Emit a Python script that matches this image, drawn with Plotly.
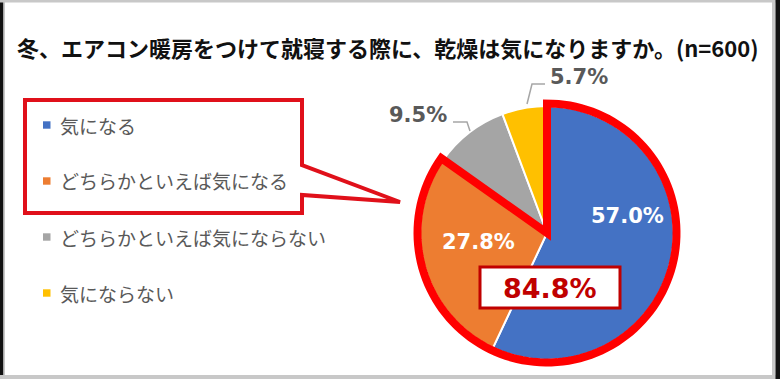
import math
import plotly.graph_objects as go

W, H = 780, 379

# ---- data ----
labels = ["気になる", "どちらかといえば気になる", "どちらかといえば気にならない", "気にならない"]
values = [57.0, 27.8, 9.5, 5.7]
colors = ["#4472C4", "#ED7D31", "#A5A5A5", "#FFC000"]
title_text = "冬、エアコン暖房をつけて就寝する際に、乾燥は気になりますか。(n=600)"
highlight_n = 2  # first two categories combined

# ---- helpers (pixel -> paper) ----
def px(x):
    return x / W

def py(y):
    return 1 - y / H

cx, cy, R = 547, 233, 127

fig = go.Figure(
    go.Pie(
        labels=labels,
        values=values,
        marker=dict(colors=colors, line=dict(color="white", width=2)),
        sort=False,
        direction="clockwise",
        rotation=0,
        textinfo="none",
        hoverinfo="label+percent",
        showlegend=False,
        domain=dict(x=[px(cx - R), px(cx + R)], y=[py(cy + R), py(cy - R)]),
    )
)

shapes = []
annotations = []

# frame
shapes += [
    dict(type="rect", xref="paper", yref="paper", x0=px(0), x1=px(3.5), y0=0, y1=1,
         fillcolor="#111111", line_width=0, layer="above"),
    dict(type="rect", xref="paper", yref="paper", x0=px(3.5), x1=px(5), y0=0, y1=1,
         fillcolor="#C8C8C8", line_width=0, layer="above"),
    dict(type="rect", xref="paper", yref="paper", x0=0, x1=1, y0=py(2.5), y1=1,
         fillcolor="#C8C8C8", line_width=0, layer="above"),
    dict(type="rect", xref="paper", yref="paper", x0=0, x1=1, y0=0, y1=py(375),
         fillcolor="#C8C8C8", line_width=0, layer="above"),
    dict(type="rect", xref="paper", yref="paper", x0=px(772), x1=px(775.5), y0=0, y1=1,
         fillcolor="#C8C8C8", line_width=0, layer="above"),
    dict(type="rect", xref="paper", yref="paper", x0=px(775.5), x1=1, y0=0, y1=1,
         fillcolor="#111111", line_width=0, layer="above"),
]

# red outline around the combined first two slices
total = sum(values)
frac = sum(values[:highlight_n]) / total
Rr = R + 2.5
pts = [(cx, cy)]
n = 120
for k in range(n + 1):
    a = 2 * math.pi * frac * k / n
    pts.append((cx + Rr * math.sin(a), cy - Rr * math.cos(a)))
path = "M " + " L ".join(f"{px(x):.5f},{py(y):.5f}" for x, y in pts) + " Z"
shapes.append(dict(type="path", xref="paper", yref="paper", path=path,
                   line=dict(color="#FF0000", width=8), fillcolor="rgba(0,0,0,0)"))

# leader lines
def poly(points, color="#A6A6A6", width=1.5):
    p = "M " + " L ".join(f"{px(x):.5f},{py(y):.5f}" for x, y in points)
    return dict(type="path", xref="paper", yref="paper", path=p,
                line=dict(color=color, width=width))

shapes.append(poly([(453, 122), (467, 122), (470, 131)]))
shapes.append(poly([(545, 84), (532, 84), (527, 104)]))

# percentage labels
label_pos = [(627, 216), (478, 242), (418, 115), (579, 77)]
label_col = ["white", "white", "#595959", "#595959"]
for v, (x, y), c in zip(values, label_pos, label_col):
    annotations.append(dict(text=f"{v:.1f}%", x=px(x), y=py(y), xref="paper", yref="paper",
                            xanchor="center", yanchor="middle", showarrow=False,
                            font=dict(family="DejaVu Sans", size=21, color=c, weight="bold")))

# combined box
combined = sum(values[:highlight_n])
shapes.append(dict(type="rect", xref="paper", yref="paper", x0=px(480), x1=px(620),
                   y0=py(308), y1=py(267), fillcolor="white",
                   line=dict(color="#C00000", width=3)))
annotations.append(dict(text=f"{combined:.1f}%", x=px(550), y=py(288), xref="paper", yref="paper",
                        xanchor="center", yanchor="middle", showarrow=False,
                        font=dict(family="DejaVu Sans", size=27, color="#C00000", weight="bold")))

# legend (drawn manually)
for i, (lab, col) in enumerate(zip(labels, colors)):
    yc = 125 + 56 * i
    shapes.append(dict(type="rect", xref="paper", yref="paper", x0=px(43), x1=px(50.5),
                       y0=py(yc + 3.7), y1=py(yc - 3.7), fillcolor=col, line_width=0))
    annotations.append(dict(text=lab, x=px(58), y=py(yc), xref="paper", yref="paper",
                            xanchor="left", yanchor="middle", showarrow=False,
                            font=dict(family="Noto Sans CJK JP", size=19, color="#595959")))

# callout around first two legend entries
callout = [(25, 100), (302, 100), (302, 165), (400, 202), (302, 195), (302, 213), (25, 213)]
cp = "M " + " L ".join(f"{px(x):.5f},{py(y):.5f}" for x, y in callout) + " Z"
shapes.append(dict(type="path", xref="paper", yref="paper", path=cp,
                   line=dict(color="#E0101A", width=4), fillcolor="rgba(0,0,0,0)"))

# title
annotations.append(dict(text=title_text, x=px(388), y=py(47), xref="paper", yref="paper",
                        xanchor="center", yanchor="middle", showarrow=False,
                        font=dict(family="Noto Sans CJK JP", size=22, color="#111111", weight="bold")))

fig.update_layout(
    width=W, height=H,
    margin=dict(l=0, r=0, t=0, b=0),
    paper_bgcolor="white",
    plot_bgcolor="white",
    shapes=shapes,
    annotations=annotations,
    showlegend=False,
)

fig.write_html("out.html")
